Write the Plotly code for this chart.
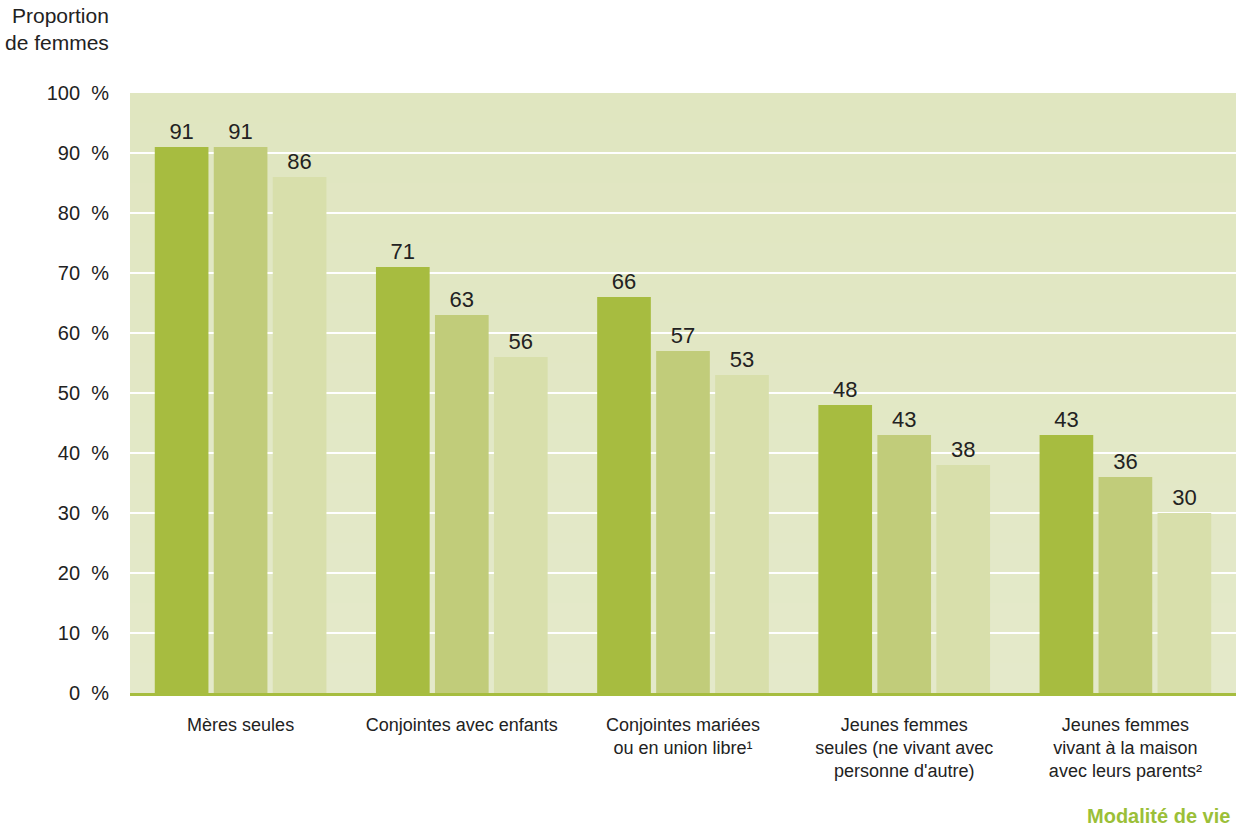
import plotly.graph_objects as go

categories = [
    "Mères seules",
    "Conjointes avec enfants",
    "Conjointes mariées<br>ou en union libre¹",
    "Jeunes femmes<br>seules (ne vivant avec<br>personne d'autre)",
    "Jeunes femmes<br>vivant à la maison<br>avec leurs parents²",
]
series_a = [91, 71, 66, 48, 43]
series_b = [91, 63, 57, 43, 36]
series_c = [86, 56, 53, 38, 30]
series_names = ["Série 1", "Série 2", "Série 3"]
tick_vals = [0, 10, 20, 30, 40, 50, 60, 70, 80, 90, 100]
tick_text = [f"{v}\u00a0\u00a0%" for v in tick_vals]

colors = ["#a7bc40", "#c1cc7a", "#d8dfab"]
FONT = "Liberation Sans Narrow, Liberation Sans, Arial"

fig = go.Figure()
for name, vals, col in zip(series_names, [series_a, series_b, series_c], colors):
    fig.add_trace(go.Bar(
        x=categories, y=vals, name=name, marker=dict(color=col, line=dict(width=0)),
        text=[str(v) for v in vals], textposition="outside",
        textfont=dict(family=FONT, size=22, color="#222222"),
        cliponaxis=False,
    ))

# subtle vertical gradient background (style only)
top = (224, 230, 192)
bot = (228, 233, 202)
n = 20
for i in range(n):
    t = i / (n - 1)
    c = tuple(round(bot[k] + (top[k] - bot[k]) * t) for k in range(3))
    fig.add_shape(type="rect", xref="paper", yref="paper",
                  x0=0, x1=1, y0=i / n, y1=(i + 1) / n,
                  fillcolor=f"rgb{c}", line=dict(width=0), layer="below")

fig.update_layout(
    width=1236, height=832,
    margin=dict(l=130, r=0, t=93, b=139),
    paper_bgcolor="white", plot_bgcolor="rgb(226,232,198)",
    barmode="group", bargap=0.2, bargroupgap=0.09,
    showlegend=False,
    font=dict(family=FONT, color="#222222"),
    annotations=[
        dict(text="Proportion<br>de femmes", xref="paper", yref="paper",
             x=0, xshift=-19, y=1.0, yshift=91, xanchor="right", yanchor="top",
             align="right", showarrow=False,
             font=dict(family=FONT, size=21, color="#222222")),
        dict(text="<b>Modalité de vie</b>", xref="paper", yref="paper",
             x=0.996, y=0, yshift=-110, xanchor="right", yanchor="top",
             showarrow=False,
             font=dict(family=FONT, size=20, color="#9bbf38")),
    ],
)
fig.update_yaxes(range=[0, 100], tickvals=tick_vals, ticktext=tick_text,
                 showgrid=True, gridcolor="white", gridwidth=2,
                 zeroline=False, showline=False,
                 ticks="outside", ticklen=16, tickcolor="rgba(0,0,0,0)",
                 tickfont=dict(family=FONT, size=20, color="#222222"))
fig.update_xaxes(showline=True, linecolor="#a6bd3f", linewidth=3,
                 ticks="outside", ticklen=13, tickcolor="rgba(0,0,0,0)",
                 tickfont=dict(family=FONT, size=18, color="#222222"))

fig.write_html("out.html", config={"displayModeBar": False},
               post_script="document.body.style.margin='0';")
